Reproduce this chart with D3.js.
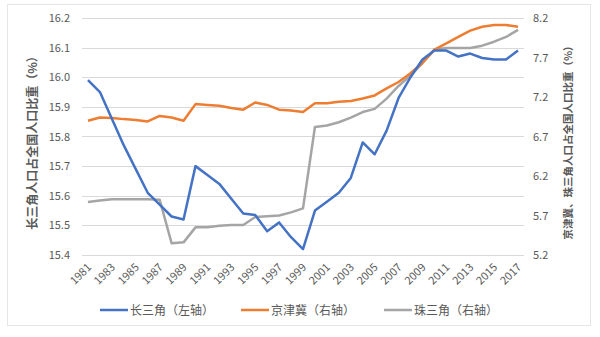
<!DOCTYPE html>
<html>
<head>
<meta charset="utf-8">
<script src="https://cdn.jsdelivr.net/npm/d3@7"></script>
<style>
  html, body { margin: 0; padding: 0; background: #fff; }
  svg { display: block; }
  text { font-family: "Noto Sans CJK SC", "Noto Sans", sans-serif; }
</style>
</head>
<body>
<svg id="chart" width="600" height="337"></svg>
<script>
const years = d3.range(1981, 2018).map(String);
const yangtze = [15.99, 15.95, 15.86, 15.77, 15.69, 15.61, 15.57, 15.53, 15.52, 15.70,
  15.67, 15.64, 15.59, 15.54, 15.535, 15.48, 15.51, 15.46, 15.42, 15.55,
  15.58, 15.61, 15.66, 15.78, 15.74, 15.82, 15.93, 16.00, 16.06, 16.09,
  16.09, 16.07, 16.08, 16.065, 16.06, 16.06, 16.09];
const jingjinji = [6.90, 6.94, 6.935, 6.92, 6.91, 6.89, 6.96, 6.94, 6.90, 7.11,
  7.10, 7.09, 7.06, 7.04, 7.13, 7.10, 7.04, 7.03, 7.01, 7.12,
  7.12, 7.14, 7.15, 7.18, 7.22, 7.31, 7.39, 7.50, 7.63, 7.80,
  7.88, 7.96, 8.04, 8.09, 8.11, 8.11, 8.09];
const pearl = [5.87, 5.89, 5.905, 5.905, 5.905, 5.905, 5.90, 5.35, 5.36, 5.55,
  5.55, 5.57, 5.58, 5.58, 5.68, 5.69, 5.70, 5.74, 5.79, 6.82,
  6.84, 6.88, 6.94, 7.01, 7.05, 7.18, 7.34, 7.47, 7.63, 7.80,
  7.82, 7.82, 7.82, 7.85, 7.90, 7.96, 8.05];
const leftTicks = [15.4, 15.5, 15.6, 15.7, 15.8, 15.9, 16.0, 16.1, 16.2];
const rightTicks = [5.2, 5.7, 6.2, 6.7, 7.2, 7.7, 8.2];
const xTickLabels = years.filter((d, i) => i % 2 === 0);
const seriesNames = ["长三角（左轴）", "京津冀（右轴）", "珠三角（右轴）"];
const leftTitle = "长三角人口占全国人口比重（%）";
const rightTitle = "京津冀、珠三角人口占全国人口比重（%）";

const colors = ["#4472C4", "#ED7D31", "#A5A5A5"];
const svg = d3.select("#chart");

// outer frame
svg.append("rect").attr("x", 7.5).attr("y", 4.5).attr("width", 583).attr("height", 321)
  .attr("fill", "#fff").attr("stroke", "#e6e6e6").attr("stroke-width", 1);

const plot = { left: 82, right: 524, top: 18, bottom: 255 };

const x = d3.scaleBand().domain(years).range([plot.left, plot.right]);
const yL = d3.scaleLinear().domain([15.4, 16.2]).range([plot.bottom, plot.top]);
const yR = d3.scaleLinear().domain([5.2, 8.2]).range([plot.bottom, plot.top]);
const cx = d => x(d) + x.bandwidth() / 2;

// gridlines
svg.append("g").selectAll("line").data(leftTicks).join("line")
  .attr("x1", plot.left).attr("x2", plot.right)
  .attr("y1", d => Math.round(yL(d)) + 0.5).attr("y2", d => Math.round(yL(d)) + 0.5)
  .attr("stroke", "#d9d9d9").attr("stroke-width", 1);

// left axis
const axL = svg.append("g").attr("transform", `translate(${plot.left},0)`)
  .call(d3.axisLeft(yL).tickValues(leftTicks).tickFormat(d3.format(".1f")).tickSize(0).tickPadding(12));
axL.select(".domain").remove();
axL.selectAll("text").attr("fill", "#595959").attr("font-size", 11);

// right axis
const axR = svg.append("g").attr("transform", `translate(${plot.right},0)`)
  .call(d3.axisRight(yR).tickValues(rightTicks).tickFormat(d3.format(".1f")).tickSize(0).tickPadding(9));
axR.select(".domain").remove();
axR.selectAll("text").attr("fill", "#595959").attr("font-size", 11);

// x axis
const axX = svg.append("g").attr("transform", `translate(0,${plot.bottom})`)
  .call(d3.axisBottom(x).tickValues(xTickLabels).tickSize(0).tickPadding(0));
axX.select(".domain").remove();
axX.selectAll("text")
  .attr("fill", "#595959").attr("font-size", 11)
  .attr("text-anchor", "end")
  .attr("dy", "0")
  .attr("transform", "translate(4,13) rotate(-45)");

// axis titles
svg.append("text").attr("transform", "translate(37,140) rotate(-90)")
  .attr("text-anchor", "middle").attr("font-size", 12).attr("font-weight", "bold")
  .attr("fill", "#595959").text(leftTitle);
svg.append("text").attr("transform", "translate(572,140) rotate(-90)")
  .attr("text-anchor", "middle").attr("font-size", 10.5).attr("font-weight", "bold")
  .attr("fill", "#595959").text(rightTitle);

// lines
const lineL = d3.line().x((d, i) => cx(years[i])).y(d => yL(d));
const lineR = d3.line().x((d, i) => cx(years[i])).y(d => yR(d));
svg.append("path").datum(pearl).attr("d", lineR).attr("fill", "none")
  .attr("stroke", colors[2]).attr("stroke-width", 2.5).attr("stroke-linejoin", "round");
svg.append("path").datum(jingjinji).attr("d", lineR).attr("fill", "none")
  .attr("stroke", colors[1]).attr("stroke-width", 2.5).attr("stroke-linejoin", "round");
svg.append("path").datum(yangtze).attr("d", lineL).attr("fill", "none")
  .attr("stroke", colors[0]).attr("stroke-width", 2.5).attr("stroke-linejoin", "round");

// legend
const legendX = [100, 241, 384];
const lg = svg.append("g").selectAll("g").data(seriesNames).join("g")
  .attr("transform", (d, i) => `translate(${legendX[i]},310)`);
lg.append("line").attr("x1", 0).attr("x2", 28).attr("y1", 0).attr("y2", 0)
  .attr("stroke", (d, i) => colors[i]).attr("stroke-width", 2.5);
lg.append("text").attr("x", 30).attr("y", 4.5).attr("font-size", 12)
  .attr("fill", "#595959").text(d => d);
</script>
</body>
</html>
